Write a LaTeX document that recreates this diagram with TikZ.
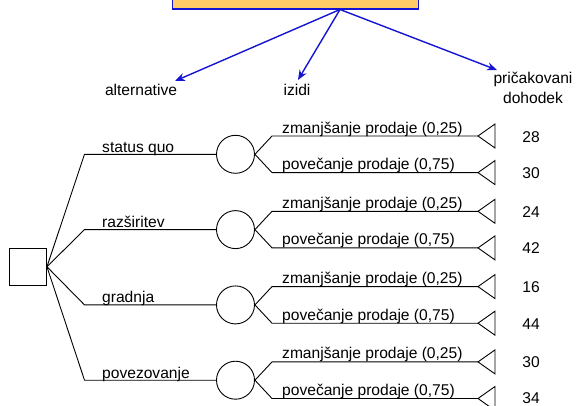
\documentclass[tikz,border=0pt]{standalone}
\usepackage{fontspec}
\setmainfont{Liberation Sans}
\usetikzlibrary{arrows.meta}
\definecolor{arrowblue}{RGB}{20,20,210}
\definecolor{hdrfill}{RGB}{255,204,102}
\begin{document}
\begin{tikzpicture}[x=1pt,y=-1pt,
  lbl/.style={font=\fontsize{15.6}{20}\selectfont, inner sep=0pt},
  edge/.style={draw=black, line width=0.9pt},
  chance/.style={circle, draw, line width=0.9pt, minimum size=38pt, inner sep=0pt},
  decision/.style={rectangle, draw, line width=0.9pt, minimum size=37.5pt, inner sep=0pt},
  payoff/.style={draw, line width=0.9pt},
  pointer/.style={draw=arrowblue, line width=1.4pt, -{Stealth[length=10pt,width=8pt]}}
]
\useasboundingbox (0,0) rectangle (576,405);
\clip (0,0) rectangle (576,405);

% header box and its pointers to the column captions
\node[draw=arrowblue, fill=hdrfill, line width=1.2pt, minimum width=246pt,
      minimum height=40pt, anchor=south west, inner sep=0pt] (hdr) at (172,9.5) {};
\coordinate (src) at (340,9.5);

\node[lbl, anchor=base] (alt) at (141,95) {alternative};
\node[lbl, anchor=base] (izd) at (297,95) {izidi};
\node[lbl, anchor=base, align=center] (exp) at (533,103) {pričakovani\\dohodek};

\coordinate (altTip) at (175,81);
\coordinate (izdTip) at (298,80);
\coordinate (expTip) at (497,70);
\draw[pointer] (src) -- (altTip);
\draw[pointer] (src) -- (izdTip);
\draw[pointer] (src) -- (expTip);

% decision node
\node[decision] (dec) at (27.75,266.75) {};

% alternatives, chance nodes and outcomes
\foreach \i/\alttext/\lo/\hi/\hiy in {1/status quo/28/30/6, 2/razširitev/24/42/6,
                                3/gradnja/16/44/6, 4/povezovanje/30/34/4.5} {
  \pgfmathsetmacro\cy{154.3+75.3*(\i-1)}
  \pgfmathsetmacro\ya{\cy-18.3}
  \pgfmathsetmacro\yb{\cy+18.3}
  \coordinate (k\i) at (84.5,\cy);
  \node[chance] (c\i) at (235.5,\cy) {};
  \draw[edge] (dec.east) -- (k\i) -- (c\i);
  \node[lbl, anchor=base west] (a\i) at (102,\cy-2) {\alttext};
  % lower sales
  \coordinate (f\i a) at (272,\ya);
  \coordinate (p\i a) at (478,\ya);
  \draw[edge] (c\i.east) -- (f\i a) -- (p\i a);
  \draw[payoff] (p\i a) -- ++(17,-12) -- ++(0,24) -- cycle;
  \node[lbl, anchor=base west] (o\i a) at (282,\ya-3) {zmanjšanje prodaje (0,25)};
  \node[lbl, anchor=base] (v\i a) at (531,\ya+6) {\lo};
  % higher sales
  \coordinate (f\i b) at (272,\yb);
  \coordinate (p\i b) at (478,\yb);
  \draw[edge] (c\i.east) -- (f\i b) -- (p\i b);
  \draw[payoff] (p\i b) -- ++(17,-12) -- ++(0,24) -- cycle;
  \node[lbl, anchor=base west] (o\i b) at (282,\yb-3) {povečanje prodaje (0,75)};
  \node[lbl, anchor=base] (v\i b) at (531,\yb+\hiy) {\hi};
}
\end{tikzpicture}
\end{document}
